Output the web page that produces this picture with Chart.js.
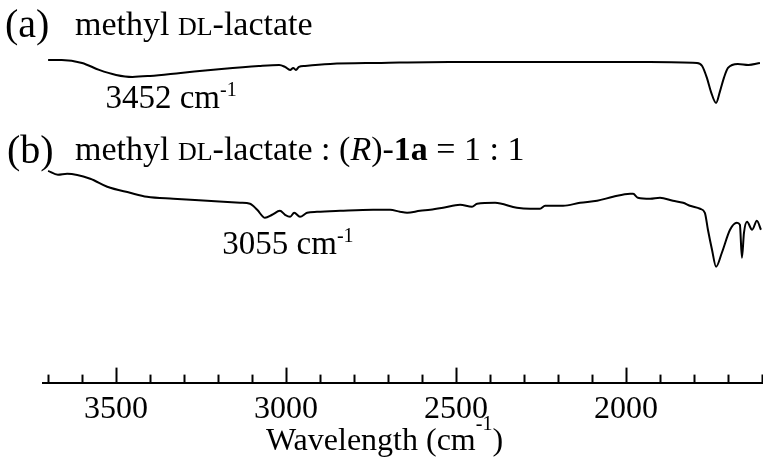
<!DOCTYPE html>
<html>
<head>
<meta charset="utf-8">
<title>IR spectra</title>
<script src="https://cdn.jsdelivr.net/npm/chart.js"></script>
<style>
    body { margin: 0; background: #fff; }
    canvas { display: block; }
</style>
</head>
<body>
<canvas id="irChart" width="763" height="458"></canvas>
<script>
// (a) methyl DL-lactate
const waveA = [3700, 3660, 3600, 3550, 3500, 3452, 3400, 3310, 3190, 3080, 3020, 3003, 2988, 2979, 2971, 2962, 2944, 2870, 2720, 2520, 2220, 1930, 1791, 1776, 1762, 1750, 1735, 1724, 1712, 1700, 1671, 1640, 1606]
const transA = [323, 323, 320, 313, 308, 306, 307, 310, 314, 317, 318, 316, 313, 315, 313, 316, 317, 319, 320, 321, 321, 321, 320, 317, 305, 291, 280, 291, 305, 315, 319, 318, 320]

// (b) methyl DL-lactate : (R)-1a = 1 : 1
const waveB = [3700, 3671, 3644, 3576, 3526, 3459, 3409, 3332, 3232, 3135, 3106, 3085, 3062, 3041, 3018, 3003, 2988, 2976, 2959, 2938, 2909, 2841, 2744, 2694, 2665, 2644, 2606, 2576, 2538, 2488, 2453, 2438, 2385, 2321, 2282, 2253, 2238, 2185, 2135, 2085, 2038, 1988, 1979, 1965, 1929, 1900, 1862, 1832, 1812, 1782, 1768, 1759, 1747, 1735, 1718, 1694, 1674, 1665, 1659, 1653, 1644, 1629, 1615, 1603]
const transB = [212, 208, 209, 204, 196, 190, 186, 184, 182, 180, 179, 173, 165, 168, 172, 168, 166, 170, 166, 170, 171, 172, 173, 173, 171, 170, 172, 173, 175, 178, 176, 179, 180, 175, 174, 174, 177, 177, 180, 182, 186, 189, 189, 185, 184, 185, 182, 180, 177, 174, 170, 153, 133, 116, 130, 153, 160, 158, 125, 150, 161, 153, 162, 153]

// axis
const xMin = 1597
const xMax = 3715
const tickValues = [1600, 1700, 1800, 1900, 2000, 2100, 2200, 2300, 2400, 2500, 2600, 2700, 2800, 2900, 3000, 3100, 3200, 3300, 3400, 3500, 3600, 3700]
const labelStep = 500

const SERIF = "'Liberation Serif', 'Times New Roman', serif"

function toPoints(xs, ys) {
    return xs.map((x, i) => ({ x: x, y: ys[i] }))
}

/*********************************************
 * draw a line of text made of several runs
 * run = { t: text, f: font, dy: raise }
 *********************************************/
function drawRuns(ctx, x, y, runs) {
    runs.forEach((r) => {
        ctx.font = r.f
        ctx.fillText(r.t, x, y - (r.dy || 0))
        x += ctx.measureText(r.t).width
    })
    return x
}

function runsWidth(ctx, runs) {
    var w = 0
    runs.forEach((r) => {
        ctx.font = r.f
        w += ctx.measureText(r.t).width
    })
    return w
}

const big = "40px " + SERIF
const txt = "34px " + SERIF
const sc = "26px " + SERIF
const num = "33px " + SERIF
const sup = "20px " + SERIF
const axisFont = "32px " + SERIF

const textPlugin = {
    id: "irText",
    afterDraw(chart) {
        const ctx = chart.ctx
        const xs = chart.scales.x
        const area = chart.chartArea
        ctx.save()
        ctx.fillStyle = "#000"
        ctx.textBaseline = "alphabetic"
        ctx.textAlign = "left"

        // inward ticks on the x axis
        ctx.strokeStyle = "#000"
        ctx.lineWidth = 2
        tickValues.forEach((v) => {
            var px = Math.round(xs.getPixelForValue(v)) + 0.5
            var len = v % labelStep === 0 ? 15 : 8
            ctx.beginPath()
            ctx.moveTo(px, area.bottom)
            ctx.lineTo(px, area.bottom - len)
            ctx.stroke()
        })

        // panel labels
        drawRuns(ctx, 5, 37, [{ t: "(a)", f: big }])
        drawRuns(ctx, 75, 35, [{ t: "methyl ", f: txt }, { t: "DL", f: sc }, { t: "-lactate", f: txt }])

        drawRuns(ctx, 7, 163, [{ t: "(b)", f: big }])
        drawRuns(ctx, 75, 160, [
            { t: "methyl ", f: txt }, { t: "DL", f: sc }, { t: "-lactate : (", f: txt },
            { t: "R", f: "italic 34px " + SERIF }, { t: ")-", f: txt },
            { t: "1a", f: "bold 34px " + SERIF }, { t: " = 1 : 1", f: txt }
        ])

        // peak labels
        drawRuns(ctx, xs.getPixelForValue(3452) - 27, 108, [{ t: "3452 cm", f: num }, { t: "-1", f: sup, dy: 12 }])
        drawRuns(ctx, xs.getPixelForValue(3055) - 45, 254, [{ t: "3055 cm", f: num }, { t: "-1", f: sup, dy: 12 }])

        // axis title
        var title = [{ t: "Wavelength (cm", f: axisFont }, { t: "-1", f: sup, dy: 20 }, { t: ")", f: axisFont }]
        var w = runsWidth(ctx, title)
        drawRuns(ctx, chart.width / 2 + 3 - w / 2, 450, title)
        ctx.restore()
    }
}

window.addEventListener("load", (e) => {
    var ctx = document.querySelector("#irChart")
    new Chart(ctx, {
        type: "line",
        data: {
            datasets: [{
                label: "(a)",
                data: toPoints(waveA, transA),
                borderColor: "#000",
                borderWidth: 2,
                pointRadius: 0,
                cubicInterpolationMode: "monotone"
            }, {
                label: "(b)",
                data: toPoints(waveB, transB),
                borderColor: "#000",
                borderWidth: 2,
                pointRadius: 0,
                cubicInterpolationMode: "monotone"
            }]
        },
        options: {
            responsive: false,
            devicePixelRatio: 1,
            animation: false,
            layout: { padding: { left: 43, right: 0, top: 0, bottom: 21 } },
            plugins: { legend: { display: false }, tooltip: { enabled: false } },
            scales: {
                x: {
                    type: "linear",
                    reverse: true,
                    min: xMin,
                    max: xMax,
                    afterBuildTicks: (axis) => {
                        axis.ticks = tickValues.map((v) => ({ value: v }))
                    },
                    ticks: {
                        autoSkip: false,
                        maxRotation: 0,
                        padding: 8,
                        color: "#000",
                        font: { family: SERIF, size: 32 },
                        callback: (v) => (v % labelStep === 0 ? String(v) : "")
                    },
                    grid: { display: true, drawOnChartArea: false, drawTicks: false, color: "rgba(0,0,0,0)" },
                    border: { display: true, color: "#000", width: 2 }
                },
                y: {
                    display: false,
                    min: 0,
                    max: 383
                }
            }
        },
        plugins: [textPlugin]
    })
})
</script>
</body>
</html>
